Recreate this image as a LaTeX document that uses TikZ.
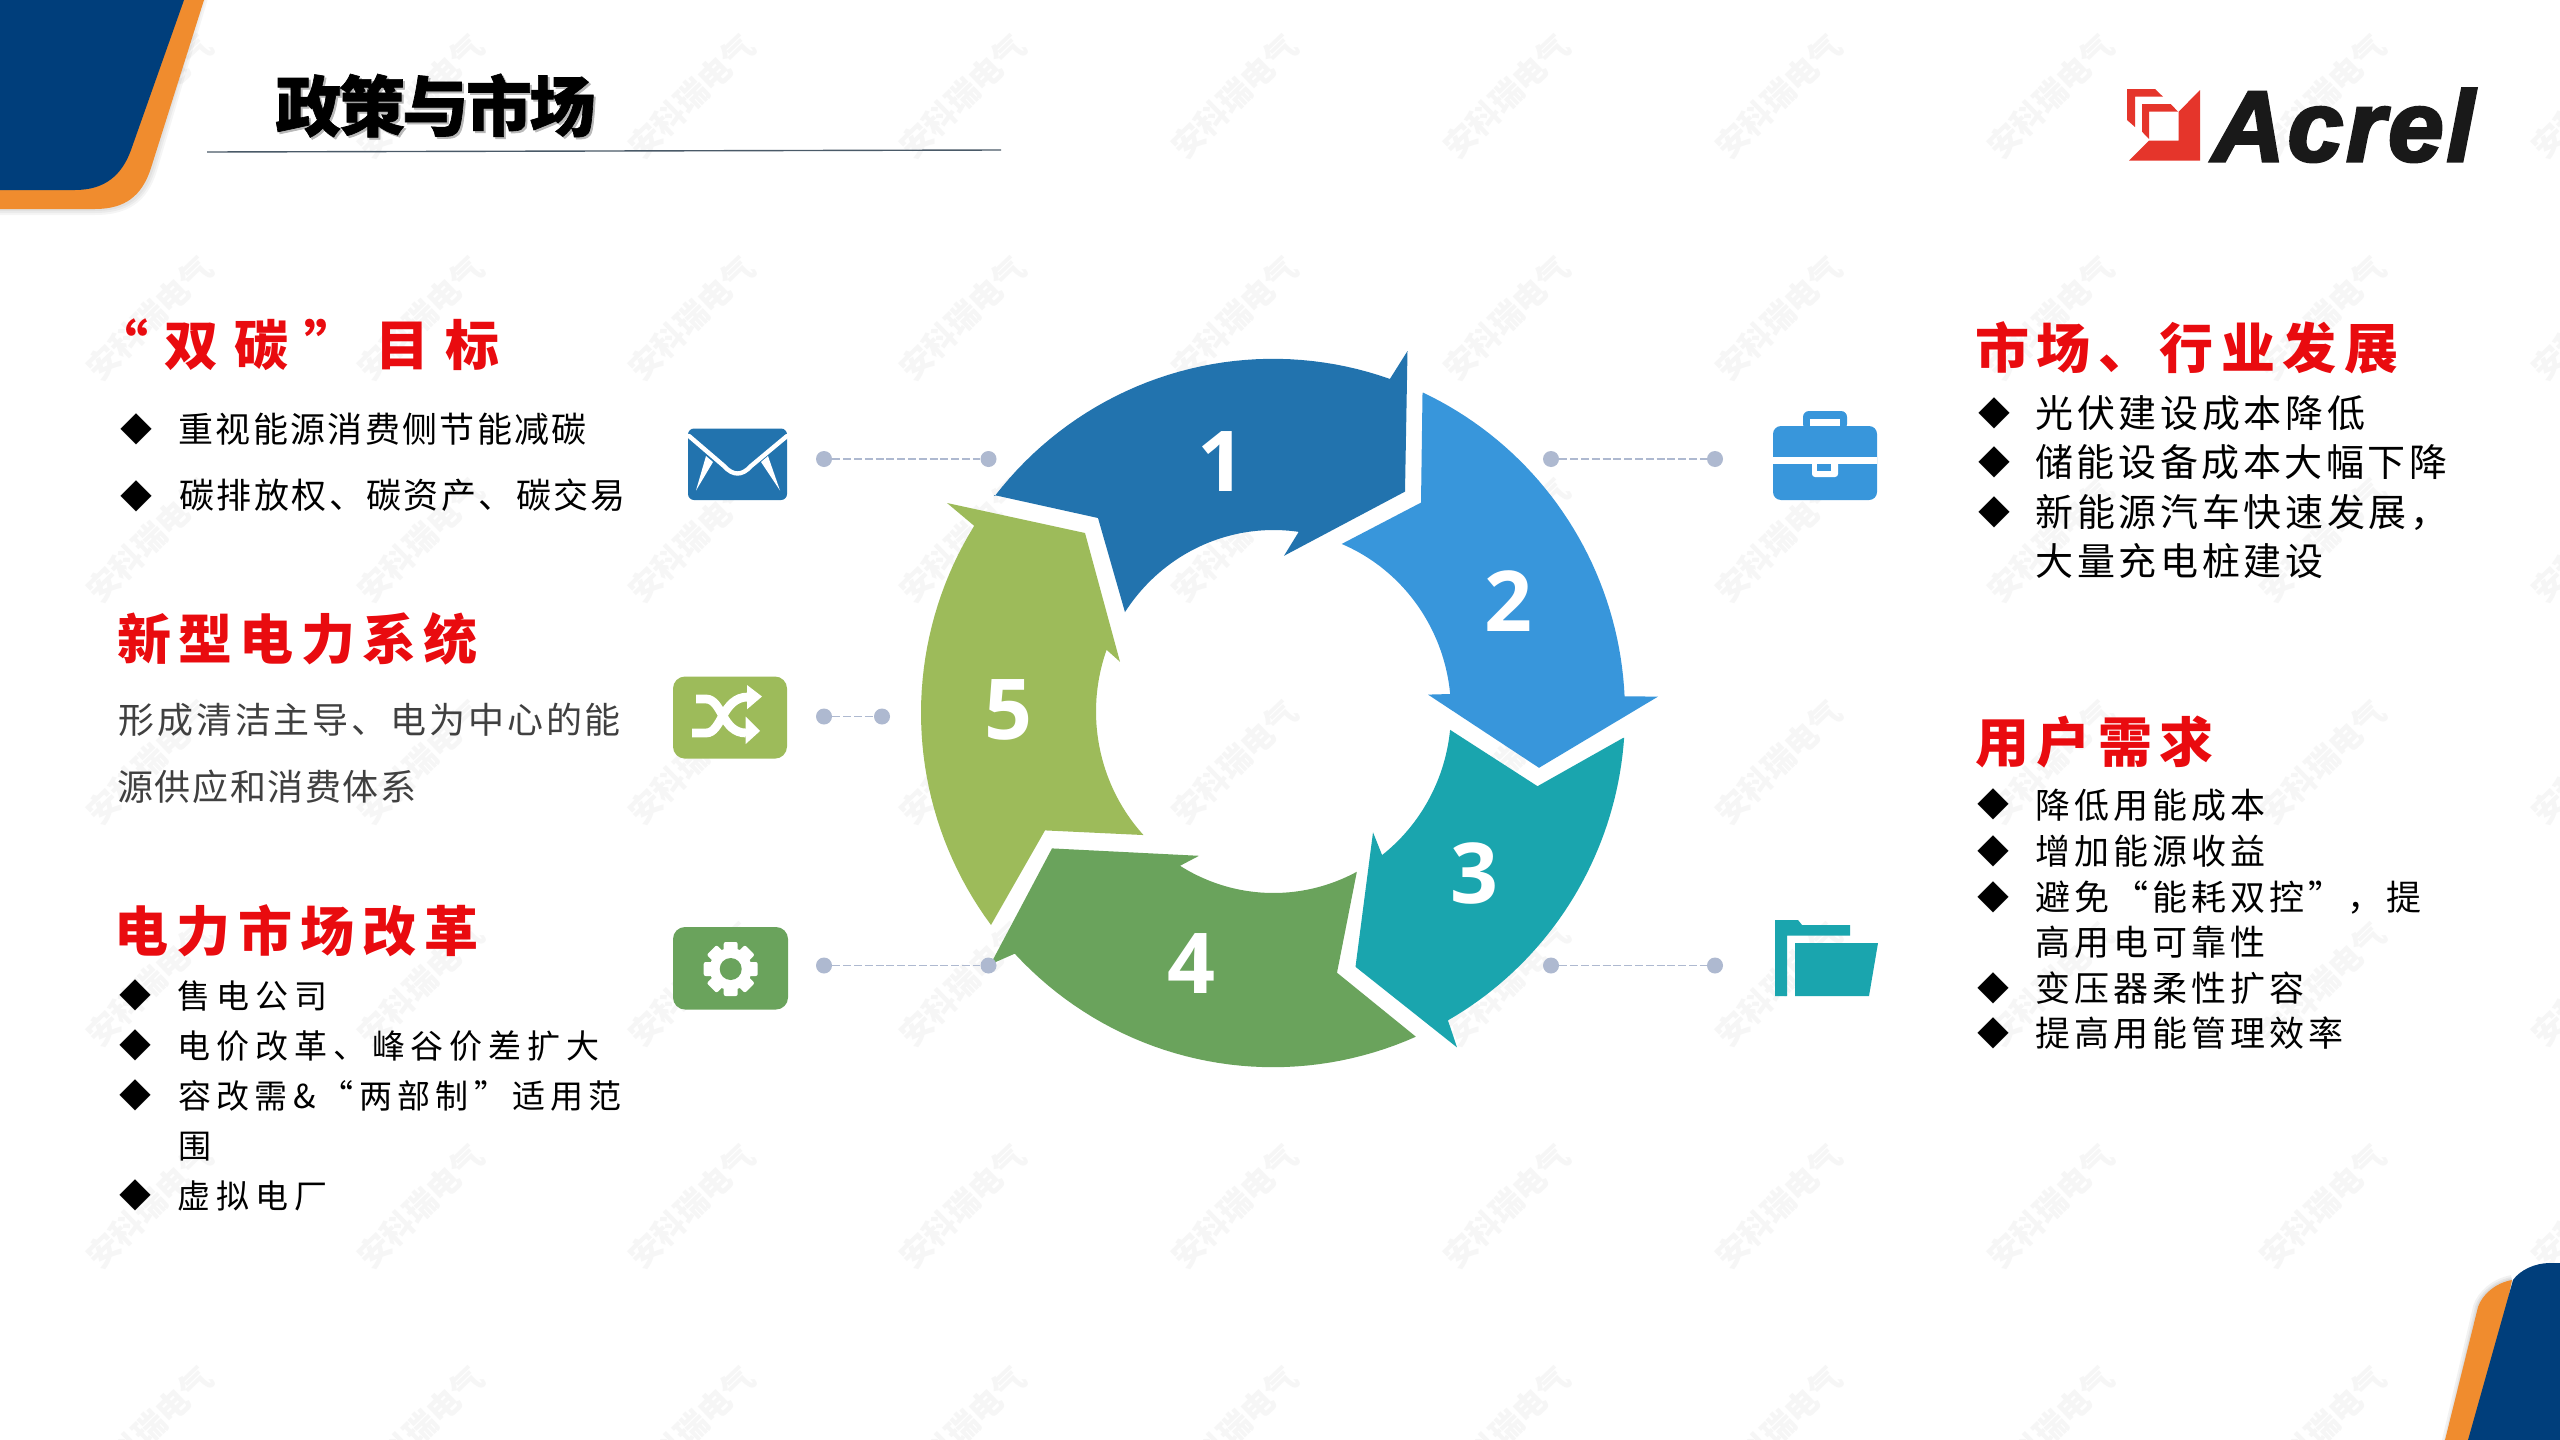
\documentclass[tikz,border=0pt]{standalone}
\usepackage{fontspec}
\setmainfont{Liberation Sans}
\newfontfamily\cjk{Noto Sans CJK SC}
\newfontfamily\numf{Open Sans}
\newfontfamily\arl{Liberation Sans}
\definecolor{navy}{HTML}{003E7B}
\definecolor{orng}{HTML}{F08C2E}
\definecolor{segA}{HTML}{2273AE}
\definecolor{segB}{HTML}{3896DB}
\definecolor{segC}{HTML}{1AA5AE}
\definecolor{segD}{HTML}{6AA35C}
\definecolor{segE}{HTML}{9DBB5A}
\definecolor{hred}{HTML}{E90B0F}
\definecolor{dotc}{HTML}{AEB9D0}
\definecolor{wmark}{HTML}{F6F6F6}
\definecolor{logor}{HTML}{E5352B}
\definecolor{rulec}{HTML}{4A5A68}
\newcommand{\ptsize}[1]{\fontsize{\the\dimexpr #1pt/2\relax}{\the\dimexpr #1pt/2\relax}\selectfont}
% name, x, centre y, letterspace, text
\newcommand{\headln}[5]{\node[anchor=base west,inner sep=0pt,text=hred] (#1) at (#2,{#3+20.5}) {\cjk\bfseries\ptsize{54}\addfontfeature{LetterSpace=#4}#5};}
% name, x, centre y, size, letterspace, colour, text
\newcommand{\bodyln}[7]{\node[anchor=base west,inner sep=0pt,text=#6] (#1) at (#2,{#3+0.38*#4}) {\cjk\ptsize{#4}\addfontfeature{LetterSpace=#5}#7};}
\newcommand{\bul}[3]{\node[inner sep=0pt,text=black] (#1) at (#2,#3) {\cjk\ptsize{32}◆};}
% colour, start, outer from, outer to, middle points, inner from, inner to, last points
\newcommand{\seg}[8]{\fill[#1] #2 -- plot[domain=#3:#4,samples=40] ({1273+352*cos(\x)},{713+354.2*sin(\x)}) -- #5 -- plot[domain=#6:#7,samples=40] ({1273.5+177.5*cos(\x)},{711.5+181.5*sin(\x)}) -- #8 -- cycle;}
\tikzset{
  ringdigit/.style={inner sep=0pt,text=white,font=\numf\bfseries\ptsize{84}},
  dotn/.style={circle,fill=dotc,inner sep=0pt,minimum size=8pt},
  dashln/.style={draw=dotc,line width=0.9pt,dash pattern=on 4pt off 1.4pt},
  wmk/.style={inner sep=0pt,text=wmark,rotate=44,font=\cjk\bfseries\ptsize{32}},
}
\begin{document}
\begin{tikzpicture}[x=0.5pt,y=-0.5pt]
\useasboundingbox (0,0) rectangle (2560,1440);
\clip (0,0) rectangle (2560,1440);
\fill[white] (0,0) rectangle (2560,1440);
% watermark
\foreach \i/\wx in {0/150,1/421,2/692,3/963,4/1235,5/1507,6/1779,7/2051,8/2323,9/2595}
  \foreach \j/\wy in {0/96,1/318,2/540,3/762,4/984,5/1206,6/1428}
    \node[wmk] (w\i\j) at (\wx,\wy) {安科瑞电气};
% corners
\foreach \k in {12,8,4}
  \draw[black,opacity=.04,line width=\k*0.5pt] (204,-9) -- (151,170) .. controls (142,198) and (125,209) .. (95,209) -- (-9,209);
\fill[orng] (0,0) -- (204,0) -- (151,168) .. controls (142,196) and (125,209) .. (95,209) -- (0,209) -- cycle;
\fill[navy] (0,0) -- (184,0) -- (131,150) .. controls (122,175) and (105,190) .. (75,190) -- (0,190) -- cycle;
\foreach \k in {10,6,3}
  \draw[black,opacity=.05,line width=\k*0.5pt] (2445,1449) -- (2478,1307) .. controls (2482,1295) and (2495,1283) .. (2512,1280);
\fill[orng] (2445,1440) -- (2478,1307) .. controls (2482,1295) and (2495,1283) .. (2512,1280) -- (2480,1440) -- cycle;
\fill[navy] (2468,1440) -- (2513,1280) .. controls (2520,1270) and (2535,1263) .. (2550,1263) -- (2560,1263) -- (2560,1440) -- cycle;
% title
\node[anchor=base west,inner sep=0pt,text=black!28] (titleshadow) at (277,{131+2}) {\cjk\bfseries\ptsize{66}\addfontfeature{LetterSpace=-3.8,FakeBold=1}政策与市场};
\node[anchor=base west,inner sep=0pt,text=black] (title) at (275,131) {\cjk\bfseries\ptsize{66}\addfontfeature{LetterSpace=-3.8,FakeBold=1}政策与市场};
\draw[draw=rulec,line width=0.7pt] (207,152) -- (1001,150);
% logo
\fill[logor] (2200,90) -- (2200,160.7) -- (2129,160.7) -- (2149,140.7) -- (2178.7,140.7) -- (2178.7,111.7) -- cycle;
\fill[logor] (2127,89) -- (2155,89) -- (2163,96.7) -- (2135,96.7) -- (2135,127) -- (2127,120) -- cycle;
\fill[logor] (2142,104) -- (2170.7,104) -- (2178,111.7) -- (2149,111.7) -- (2149,139) -- (2142,131.7) -- cycle;
\node[anchor=base west,inner sep=0pt,text=black!90] (acrel) at (2212,161) {\arl\bfseries\itshape\ptsize{100}\addfontfeature{FakeBold=3,LetterSpace=3}Acrel};
% ring
\seg{segA}{(994,495)}{-142.2}{-70.6}{(1407.5,351) -- (1405,491.6) -- (1284,555.8) -- (1299,531.4)}{-81.7}{-146.8}{(1098,518)}
\seg{segB}{(1422.5,393.6)}{-64.8}{-2.7}{(1658,696.6) -- (1539,767.8) -- (1428,694.6) -- (1451,694)}{-5.6}{-67.4}{(1421,502.6)}
\seg{segC}{(1623,738)}{4}{60.2}{(1457,1047.4) -- (1355.5,966.8) -- (1373,832.4) -- (1382,854.8)}{52.1}{5.8}{(1537.5,786.2)}
\seg{segD}{(1415.5,1036.4)}{66.1}{137.2}{(990.5,964.3) -- (1052,848.4) -- (1199,855.8) -- (1180,865.8)}{121.7}{62}{(1337,972.7)}
\seg{segE}{(991,925)}{143.2}{211.9}{(947,503) -- (1085,533) -- (1120,661.8) -- (1105,648.4)}{200.4}{137.1}{(1045,830.4)}
\node[ringdigit] (n1) at (1221,462) {1};
\node[ringdigit] (n2) at (1508,601) {2};
\node[ringdigit] (n3) at (1474,873) {3};
\node[ringdigit] (n4) at (1191,964) {4};
\node[ringdigit] (n5) at (1008,710) {5};
% connectors
\node[dotn] (da1) at (824,459) {}; \node[dotn] (da2) at (988.5,459) {};
\node[dotn] (db1) at (824,716.5) {}; \node[dotn] (db2) at (882,716.5) {};
\node[dotn] (dc1) at (824,965.5) {}; \node[dotn] (dc2) at (988.5,965.5) {};
\node[dotn] (dd1) at (1551,459) {}; \node[dotn] (dd2) at (1715,459) {};
\node[dotn] (de1) at (1551,965.5) {}; \node[dotn] (de2) at (1715,965.5) {};
\draw[dashln] (da1) -- (da2);
\draw[dashln] (db1) -- (db2);
\draw[dashln] (dc1) -- (dc2);
\draw[dashln] (dd1) -- (dd2);
\draw[dashln] (de1) -- (de2);
% envelope
\fill[segA,rounded corners=3pt] (688,428.5) rectangle (787,500);
\draw[white,line width=2.2pt,line cap=round] (689,436) -- (724,466) .. controls (733,476) and (742,476) .. (751,466) -- (787,436);
\fill[white] (706,456) -- (696,490.5) -- (713,462) -- cycle;
\fill[white] (768,456) -- (780,490.5) -- (761,462) -- cycle;
% shuffle
\fill[segE,rounded corners=6pt] (673,676.5) rectangle (787,758.6);
\draw[white,line width=4.4pt] (696,699) -- (706,699) .. controls (722,699) and (722,733) .. (746,733);
\draw[white,line width=4.4pt] (692,733) -- (706,733) .. controls (722,733) and (722,697) .. (748,697);
\fill[white] (745.7,716.5) -- (760,731) -- (745.7,744) -- cycle;
\fill[white] (747,685) -- (762,696.5) -- (747,709.3) -- cycle;
% gear
\fill[segD,rounded corners=6pt] (673,927) rectangle (788,1009.5);
\foreach \a in {0,45,...,315}
  \fill[white,shift={(730.7,969)},rotate=\a,rounded corners=1pt] (-7,-27) rectangle (7,0);
\fill[white] (730.7,969) circle[radius=10.5pt];
\fill[segD] (730.7,969) circle[radius=5.5pt];
% briefcase
\fill[segB,rounded corners=3pt] (1803,411) rectangle (1847,430);
\fill[white] (1810,419) rectangle (1840,430);
\fill[segB,rounded corners=4pt] (1773,426) rectangle (1877,500);
\fill[white] (1773,457) rectangle (1877,463.6);
\fill[white,rounded corners=1.5pt] (1812,460) rectangle (1838,477);
\fill[segB] (1816.5,464) rectangle (1831,471);
% folder
\fill[segC] (1775,920) -- (1798,920) -- (1802,925) -- (1850,925) -- (1850,935.5) -- (1787,935.5) -- (1787,996) -- (1775,996) -- cycle;
\fill[segC] (1795,943) -- (1878,943) -- (1869,996) -- (1795,996) -- cycle;
% left text
\headln{h1}{94}{345}{30}{“双碳”目标}
\bul{b1}{136}{429}
\bodyln{t1}{178}{429}{35}{6.7}{black}{重视能源消费侧节能减碳}
\bul{b2}{136}{496}
\bodyln{t2}{179}{495.5}{35}{6.9}{black}{碳排放权、碳资产、碳交易}
\headln{h2}{117}{639}{13.4}{新型电力系统}
\bodyln{t3}{118}{719.5}{36}{8}{black!75}{形成清洁主导、电为中心的能}
\bodyln{t4}{117}{787}{36}{4.4}{black!75}{源供应和消费体系}
\headln{h3}{114}{931}{14.8}{电力市场改革}
\bul{b3}{135}{995}
\bodyln{t5}{177.5}{996}{33}{18}{black}{售电公司}
\bul{b4}{135}{1045}
\bodyln{t6}{177.5}{1046}{33}{17.7}{black}{电价改革、峰谷价差扩大}
\bul{b5}{135}{1095}
\bodyln{t7}{178}{1096}{33}{16}{black}{容改需\&“两部制”适用范}
\bodyln{t8}{178}{1146}{33}{16.4}{black}{围}
\bul{b6}{135}{1195}
\bodyln{t9}{177.5}{1196}{33}{18}{black}{虚拟电厂}
% right text
\headln{h4}{1975}{348}{13.9}{市场、行业发展}
\bul{b7}{1994}{413}
\bodyln{r1}{2035}{413.5}{38}{9.7}{black}{光伏建设成本降低}
\bul{b8}{1994}{462}
\bodyln{r2}{2035}{462.5}{38}{9.4}{black}{储能设备成本大幅下降}
\bul{b9}{1994}{512}
\bodyln{r3}{2035}{512}{38}{9.7}{black}{新能源汽车快速发展，}
\bodyln{r4}{2035}{561}{38}{9.7}{black}{大量充电桩建设}
\headln{h5}{1975}{741.5}{13.9}{用户需求}
\bul{b10}{1993}{804}
\bodyln{r5}{2035}{805}{35}{11.4}{black}{降低用能成本}
\bul{b11}{1993}{851}
\bodyln{r6}{2035}{851}{35}{11.4}{black}{增加能源收益}
\bul{b12}{1993}{897}
\bodyln{r7}{2035}{897}{35}{11.4}{black}{避免“能耗双控”，提}
\bodyln{r8}{2035}{942.5}{35}{11.4}{black}{高用电可靠性}
\bul{b13}{1993}{988}
\bodyln{r9}{2035}{988}{35}{11.4}{black}{变压器柔性扩容}
\bul{b14}{1993}{1033}
\bodyln{r10}{2035}{1033.5}{35}{11.4}{black}{提高用能管理效率}
\end{tikzpicture}
\end{document}
